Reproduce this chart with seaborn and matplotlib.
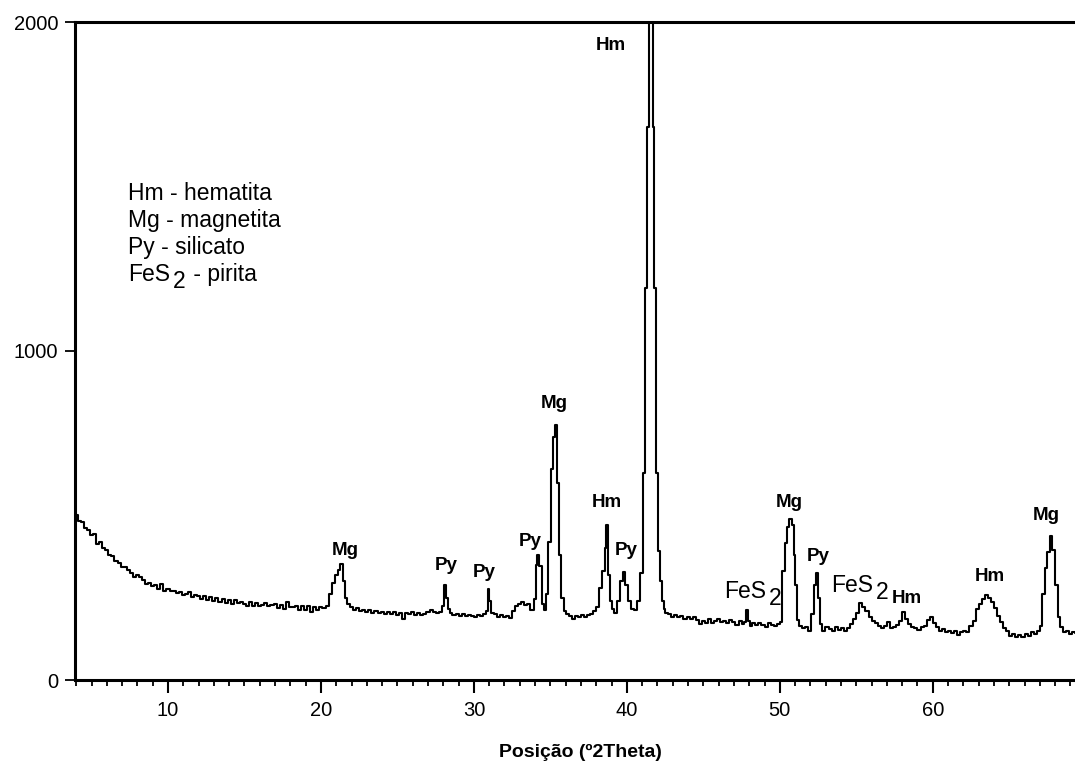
import matplotlib
matplotlib.use("Agg")
import matplotlib.pyplot as plt
from matplotlib.ticker import MultipleLocator
import seaborn as sns

# XRD scan: 2theta (degrees) and counts
two_theta = [
    4.0, 4.2, 4.4, 4.6, 4.8, 5.0, 5.2, 5.4, 5.6, 5.8,
    6.0, 6.2, 6.4, 6.6, 6.8, 7.0, 7.2, 7.4, 7.6, 7.8,
    8.0, 8.2, 8.4, 8.6, 8.8, 9.0, 9.2, 9.4, 9.6, 9.8,
    10.0, 10.2, 10.4, 10.6, 10.8, 11.0, 11.2, 11.4, 11.6, 11.8,
    12.0, 12.2, 12.4, 12.6, 12.8, 13.0, 13.2, 13.4, 13.6, 13.8,
    14.0, 14.2, 14.4, 14.6, 14.8, 15.0, 15.2, 15.4, 15.6, 15.8,
    16.0, 16.2, 16.4, 16.6, 16.8, 17.0, 17.2, 17.4, 17.6, 17.8,
    18.0, 18.2, 18.4, 18.6, 18.8, 19.0, 19.2, 19.4, 19.6, 19.8,
    20.0, 20.2, 20.4,
    20.6, 20.8, 21.0, 21.2, 21.35, 21.5, 21.6, 21.8, 22.0,
    22.2, 22.4, 22.6, 22.8, 23.0, 23.2, 23.4, 23.6, 23.8, 24.0,
    24.2, 24.4, 24.6, 24.8, 25.0, 25.2, 25.4, 25.6, 25.8, 26.0,
    26.2, 26.4, 26.6, 26.8, 27.0, 27.2, 27.4, 27.6, 27.8,
    28.0, 28.1, 28.2, 28.35, 28.5,
    28.7, 28.9, 29.1, 29.3, 29.5, 29.7, 29.9, 30.1, 30.3, 30.5, 30.7,
    30.85, 30.95, 31.05, 31.2,
    31.4, 31.6, 31.8, 32.0, 32.2, 32.4, 32.6, 32.8, 33.0, 33.2, 33.4, 33.6, 33.8,
    34.0, 34.1, 34.2, 34.35, 34.5, 34.65, 34.8, 34.95, 35.1, 35.25,
    35.35, 35.5, 35.65, 35.8, 35.95,
    36.1, 36.3, 36.5, 36.7, 36.9, 37.1, 37.3, 37.5, 37.7, 37.9, 38.1,
    38.3, 38.5, 38.62, 38.7, 38.8, 38.95, 39.1, 39.25,
    39.45, 39.65, 39.8, 40.0, 40.2, 40.4, 40.55, 40.75, 40.95,
    41.1, 41.25, 41.4, 41.55, 41.65, 41.75, 41.85, 42.0, 42.1, 42.2, 42.35, 42.45,
    42.6, 42.8, 43.0, 43.2, 43.4, 43.6, 43.8, 44.0, 44.2, 44.4,
    44.6, 44.8, 45.0, 45.2, 45.4, 45.6, 45.8, 46.0, 46.2, 46.4,
    46.6, 46.8, 47.0, 47.2, 47.4, 47.6, 47.75, 47.85, 47.95, 48.1,
    48.3, 48.5, 48.7, 48.9, 49.1, 49.3, 49.5, 49.7, 49.9, 50.1,
    50.25, 50.4, 50.55, 50.7, 50.85, 50.95, 51.05, 51.2, 51.35, 51.55,
    51.75, 51.95, 52.15, 52.3, 52.4, 52.55, 52.7, 52.85,
    53.1, 53.3, 53.5, 53.7, 53.9, 54.1, 54.3, 54.5, 54.7, 54.9,
    55.1, 55.3, 55.5, 55.7, 55.9, 56.1, 56.3, 56.5, 56.7, 56.9,
    57.1, 57.3, 57.5, 57.7, 57.9, 58.1, 58.3, 58.5, 58.7, 58.9,
    59.1, 59.3, 59.5, 59.7, 59.9, 60.1, 60.3, 60.5, 60.7, 60.9,
    61.1, 61.3, 61.5, 61.7, 61.9, 62.1, 62.3, 62.5, 62.7, 62.9,
    63.1, 63.3, 63.5, 63.7, 63.9, 64.1, 64.3, 64.5, 64.7, 64.9,
    65.1, 65.3, 65.5, 65.7, 65.9, 66.1, 66.3, 66.5, 66.7, 66.9,
    67.1, 67.25, 67.4, 67.55, 67.75, 67.9, 68.1, 68.25, 68.4, 68.6,
    68.8, 69.0, 69.2, 69.4,
]
counts = [
    502, 484, 480, 462, 456, 441, 444, 414, 420, 400,
    396, 380, 376, 362, 356, 344, 342, 334, 326, 314,
    318, 312, 304, 292, 296, 286, 290, 278, 292, 272,
    278, 270, 272, 264, 266, 258, 262, 268, 252, 258,
    254, 247, 256, 242, 252, 240, 249, 236, 246, 234,
    244, 232, 242, 233, 236, 231, 226, 236, 224, 235,
    226, 229, 233, 224, 227, 232, 218, 228, 217, 238,
    221, 222, 226, 214, 224, 214, 225, 208, 221, 212,
    222, 218, 226,
    262, 295, 318, 335, 352, 300, 250, 230, 222,
    214, 218, 210, 214, 207, 212, 205, 210, 204, 208,
    202, 206, 200, 207, 198, 205, 186, 204, 200, 206,
    199, 204, 198, 202, 208, 212, 208, 203, 206,
    225, 289, 250, 215, 205,
    198, 202, 195, 200, 194, 199, 196, 192, 198, 195, 200,
    210, 277, 240, 205,
    200, 192, 198, 190, 196, 188, 210, 225, 232, 238, 228, 232, 212,
    245, 350, 380, 345, 230, 213, 260, 420, 640, 740,
    775, 600, 380, 250, 210,
    200, 195, 185, 196, 190, 197, 192, 198, 200, 210, 222,
    280, 330, 400, 472, 320, 240, 215, 205,
    240, 300, 328, 290, 240, 215, 212, 240, 325,
    630, 1190, 1680, 2010, 2010, 1680, 1190, 630, 393, 300, 240, 215,
    205, 200, 192, 198, 190, 196, 186, 192, 185, 190,
    182, 170, 178, 174, 185, 172, 178, 186, 175, 180,
    172, 182, 176, 168, 178, 170, 175, 213, 180, 165,
    172, 166, 174, 168, 160, 172, 166, 163, 170, 175,
    330, 416, 465, 489, 470, 380, 290, 182, 165, 158,
    162, 150, 200, 290, 325, 250, 170, 150,
    160, 155, 148, 160, 152, 158, 150, 157, 170, 185,
    205, 234, 222, 210, 190, 180, 172, 165, 158, 165,
    175, 158, 162, 168, 180, 207, 185, 170, 160, 158,
    152, 160, 165, 182, 190, 172, 160, 150, 155, 145,
    150, 142, 148, 138, 145, 150, 146, 165, 180, 215,
    232, 245, 258, 250, 238, 220, 195, 175, 158, 148,
    135, 140, 132, 138, 130, 140, 135, 145, 140, 150,
    165, 260, 340, 390, 438, 395, 290, 190, 160, 145,
    150, 140, 146, 142,
]

# phase labels above the peaks
peak_labels = ["Mg", "Py", "Py", "Py", "Mg", "Hm", "Py", "Hm", "Mg", "Py", "Hm", "Hm", "Mg"]
peak_label_x = [21.6, 28.2, 30.65, 33.66, 35.23, 38.7, 39.93, 38.95, 50.6, 52.5, 58.3, 63.7, 67.45]
peak_label_y = [395, 347, 328, 420, 839, 538, 395, 1930, 538, 374, 249, 316, 499]
pyrite_label_x = [46.35, 53.35]
pyrite_label_y = [249, 266]

legend_lines = ["Hm - hematita", "Mg - magnetita", "Py - silicato"]

sns.set_style("ticks")
plt.rcParams["font.family"] = ["Liberation Sans", "DejaVu Sans"]
plt.rcParams["text.color"] = "black"
plt.rcParams["xtick.color"] = "black"
plt.rcParams["ytick.color"] = "black"
plt.rcParams["axes.labelcolor"] = "black"

fig = plt.figure(figsize=(10.75, 7.64), dpi=100)
ax = fig.add_axes([75 / 1075, 84 / 764, 1000 / 1075, 658 / 764])

sns.lineplot(x=two_theta, y=counts, color="black", lw=1.5, drawstyle="steps-mid",
             estimator=None, ax=ax)

ax.set_xlim(3.92, 69.3)
ax.set_ylim(0, 2000)
ax.set_xticks([10, 20, 30, 40, 50, 60])
ax.xaxis.set_minor_locator(MultipleLocator(1))
ax.set_yticks([0, 1000, 2000])
ax.tick_params(axis="x", which="major", direction="out", length=9, width=1.5,
               labelsize=14.5, pad=6)
ax.tick_params(axis="x", which="minor", direction="out", length=4.5, width=1.3)
ax.tick_params(axis="y", direction="out", length=7, width=1.3, labelsize=14.5, pad=5)

for side in ["left", "bottom", "top"]:
    ax.spines[side].set_linewidth(2.2)
    ax.spines[side].set_color("black")
ax.spines["right"].set_visible(False)

ax.set_xlabel("Posição (º2Theta)", fontsize=14, fontweight="bold")
ax.xaxis.set_label_coords(0.505, -0.097)
ax.set_ylabel("")

for lab, x, y in zip(peak_labels, peak_label_x, peak_label_y):
    ax.text(x, y, lab, ha="center", va="center", fontsize=13.5, fontweight="bold")


def fes2(x, y, size, tail=""):
    t = ax.text(x, y, "FeS", fontsize=size, ha="left", va="baseline")
    s = ax.annotate("2", xy=(1, 0), xycoords=t, xytext=(2, -5), textcoords="offset points",
                    fontsize=size, ha="left", va="bottom")
    if tail:
        ax.annotate(tail, xy=(1, 0), xycoords=s, xytext=(1, 5), textcoords="offset points",
                    fontsize=size, ha="left", va="bottom")


for x, y in zip(pyrite_label_x, pyrite_label_y):
    fes2(x, y, 16.5)

legend_y = [1459, 1377, 1295]
for txt, y in zip(legend_lines, legend_y):
    ax.text(7.39, y, txt, fontsize=16.5, ha="left", va="baseline")
fes2(7.39, 1213, 16.5, " - pirita")

fig.savefig("out.png", dpi=100)
